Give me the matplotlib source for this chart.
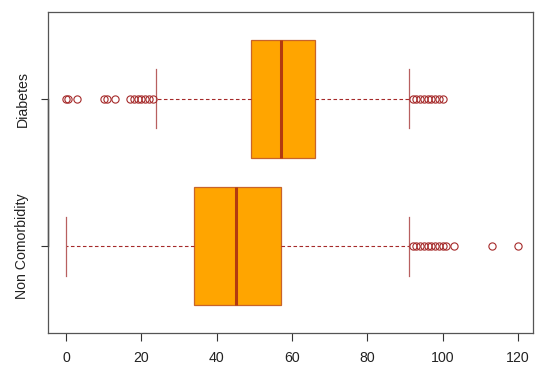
import matplotlib
matplotlib.use("Agg")
import matplotlib.pyplot as plt

plt.rcParams['font.family'] = ['Liberation Sans', 'DejaVu Sans']

categories = ["Non Comorbidity", "Diabetes"]
q1 = [34, 49]
medians = [45, 57]
q3 = [57, 66]
whisker_low = [0, 24]
whisker_high = [91, 91]
outliers = [
    [92, 93, 94, 95, 96, 97, 98, 99, 100, 101, 103, 113, 120],
    [0, 0.5, 3, 10, 11, 13, 17, 18, 19, 20, 21, 22, 23,
     92, 93, 94, 95, 96, 97, 98, 99, 100],
]
x_ticks = [0, 20, 40, 60, 80, 100, 120]

stats = []
for i, name in enumerate(categories):
    stats.append(dict(label=name, q1=q1[i], med=medians[i], q3=q3[i],
                      whislo=whisker_low[i], whishi=whisker_high[i],
                      fliers=outliers[i]))

fig = plt.figure(figsize=(5.5, 3.78), dpi=100)
ax = fig.add_axes([48/550, 1-333/378, (533-48)/550, (333-12)/378])

brown = "#A52A2A"
ax.bxp(stats, positions=[1, 2], vert=False, widths=0.8, patch_artist=True,
       boxprops=dict(facecolor="#FFA500", edgecolor="#C8642A", linewidth=0.9),
       medianprops=dict(color="#B23A10", linewidth=2.2, solid_capstyle='butt'),
       whiskerprops=dict(color=brown, linestyle=(0, (3.2, 2.2)), linewidth=0.8),
       capprops=dict(color="#B86060", linewidth=0.9),
       capwidths=0.4,
       flierprops=dict(marker='o', markerfacecolor='none', markeredgecolor=brown,
                       markersize=5.2, markeredgewidth=0.8))

ax.set_xlim(-4.8, 124.0)
ax.set_ylim(0.41, 2.59)
ax.set_xticks(x_ticks)
ax.set_xticklabels([str(t) for t in x_ticks])
ax.set_yticks([1, 2])
ax.set_yticklabels(categories, rotation=90, va='center')

for s in ax.spines.values():
    s.set_color("#555555")
    s.set_linewidth(0.9)
ax.tick_params(axis='both', colors='#333333', labelcolor='#222222', labelsize=10.2,
               length=5.4, width=0.8)
ax.tick_params(axis='x', pad=7.5)
ax.tick_params(axis='y', pad=8)

# R-style y axis line between first and last tick
ax.plot([0, 0], [1, 2], transform=ax.get_yaxis_transform(), color='#333333',
        linewidth=1.0, clip_on=False)

fig.savefig("out.png", dpi=100)
